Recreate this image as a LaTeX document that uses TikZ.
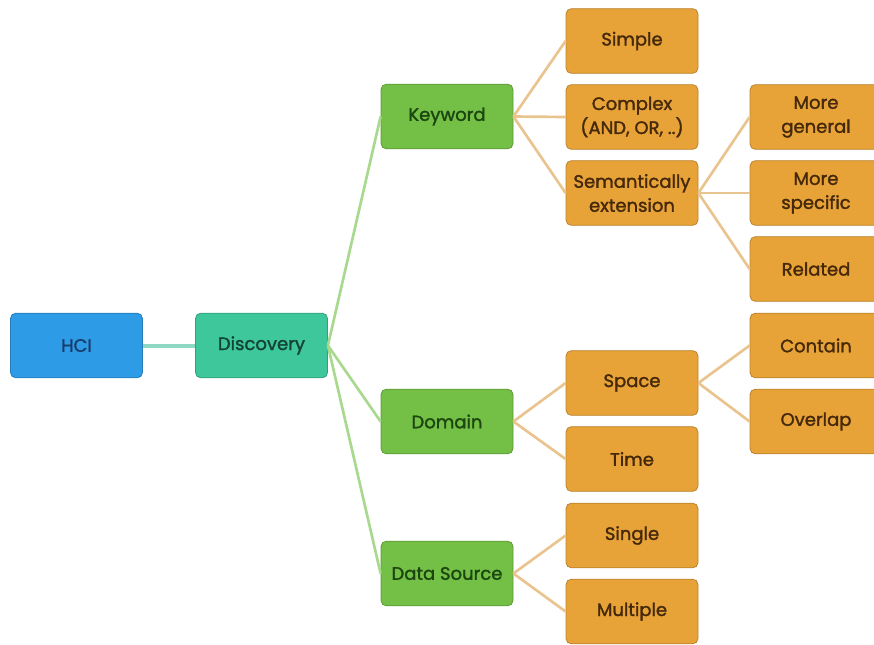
\documentclass[tikz,border=0pt]{standalone}
\usepackage{fontspec}
\setmainfont{Poppins}
\newfontfamily\boxfont[FakeBold=1.6]{Poppins}
\definecolor{hciblue}{HTML}{2E9BE6}
\definecolor{hcitext}{HTML}{173C6E}
\definecolor{discteal}{HTML}{3DC79B}
\definecolor{disctext}{HTML}{134433}
\definecolor{kwgreen}{HTML}{74BF45}
\definecolor{kwtext}{HTML}{1C4610}
\definecolor{leaforange}{HTML}{E8A338}
\definecolor{leaftext}{HTML}{45290A}
\definecolor{linkteal}{HTML}{8ED8C4}
\definecolor{linkgreen}{HTML}{A9D98E}
\definecolor{linktan}{HTML}{E9C48E}
\tikzset{
  box/.style={rounded corners=4pt, minimum width=99pt, minimum height=48.5pt,
    align=center, font=\boxfont\fontsize{13.5}{18}\selectfont, inner sep=2pt, line width=0.6pt},
  hcibox/.style={box, fill=hciblue, draw=hciblue!80!black, text=hcitext},
  discbox/.style={box, fill=discteal, draw=discteal!80!black, text=disctext},
  greenbox/.style={box, fill=kwgreen, draw=kwgreen!80!black, text=kwtext},
  orangebox/.style={box, fill=leaforange, draw=leaforange!80!black, text=leaftext},
  tealink/.style={draw=linkteal, line width=3pt},
  greenlink/.style={draw=linkgreen, line width=2pt},
  tanlink/.style={draw=linktan, line width=2pt},
}
\begin{document}
\begin{tikzpicture}[x=0.75pt, y=-0.75pt]
\useasboundingbox (0,0) rectangle (874,644);
\node[hcibox] (hci) at (76.5,345.5) {HCI};
\node[discbox] (disc) at (261.5,345.5) {Discovery};
\node[greenbox] (kw) at (447,116.5) {Keyword};
\node[greenbox] (dom) at (447,421.5) {Domain};
\node[greenbox] (ds) at (447,573.5) {Data Source};
\node[orangebox] (simple) at (632,41) {Simple};
\node[orangebox] (complex) at (632,117) {Complex\\(AND, OR, ..)};
\node[orangebox] (sem) at (632,193) {Semantically\\extension};
\node[orangebox] (gen) at (816,117) {More\\general};
\node[orangebox] (spec) at (816,193) {More\\specific};
\node[orangebox] (rel) at (816,269) {Related};
\node[orangebox] (space) at (632,383) {Space};
\node[orangebox] (time) at (632,459) {Time};
\node[orangebox] (contain) at (816,345.5) {Contain};
\node[orangebox] (overlap) at (816,421.5) {Overlap};
\node[orangebox] (single) at (632,535.5) {Single};
\node[orangebox] (multi) at (632,611.5) {Multiple};
\draw[tealink] (hci.east) -- (disc.west);
\draw[greenlink] (disc.east) -- (kw.west);
\draw[greenlink] (disc.east) -- (dom.west);
\draw[greenlink] (disc.east) -- (ds.west);
\draw[tanlink] (kw.east) -- (simple.west);
\draw[tanlink] (kw.east) -- (complex.west);
\draw[tanlink] (kw.east) -- (sem.west);
\draw[tanlink] (sem.east) -- (gen.west);
\draw[tanlink] (sem.east) -- (spec.west);
\draw[tanlink] (sem.east) -- (rel.west);
\draw[tanlink] (dom.east) -- (space.west);
\draw[tanlink] (dom.east) -- (time.west);
\draw[tanlink] (space.east) -- (contain.west);
\draw[tanlink] (space.east) -- (overlap.west);
\draw[tanlink] (ds.east) -- (single.west);
\draw[tanlink] (ds.east) -- (multi.west);
\end{tikzpicture}
\end{document}
